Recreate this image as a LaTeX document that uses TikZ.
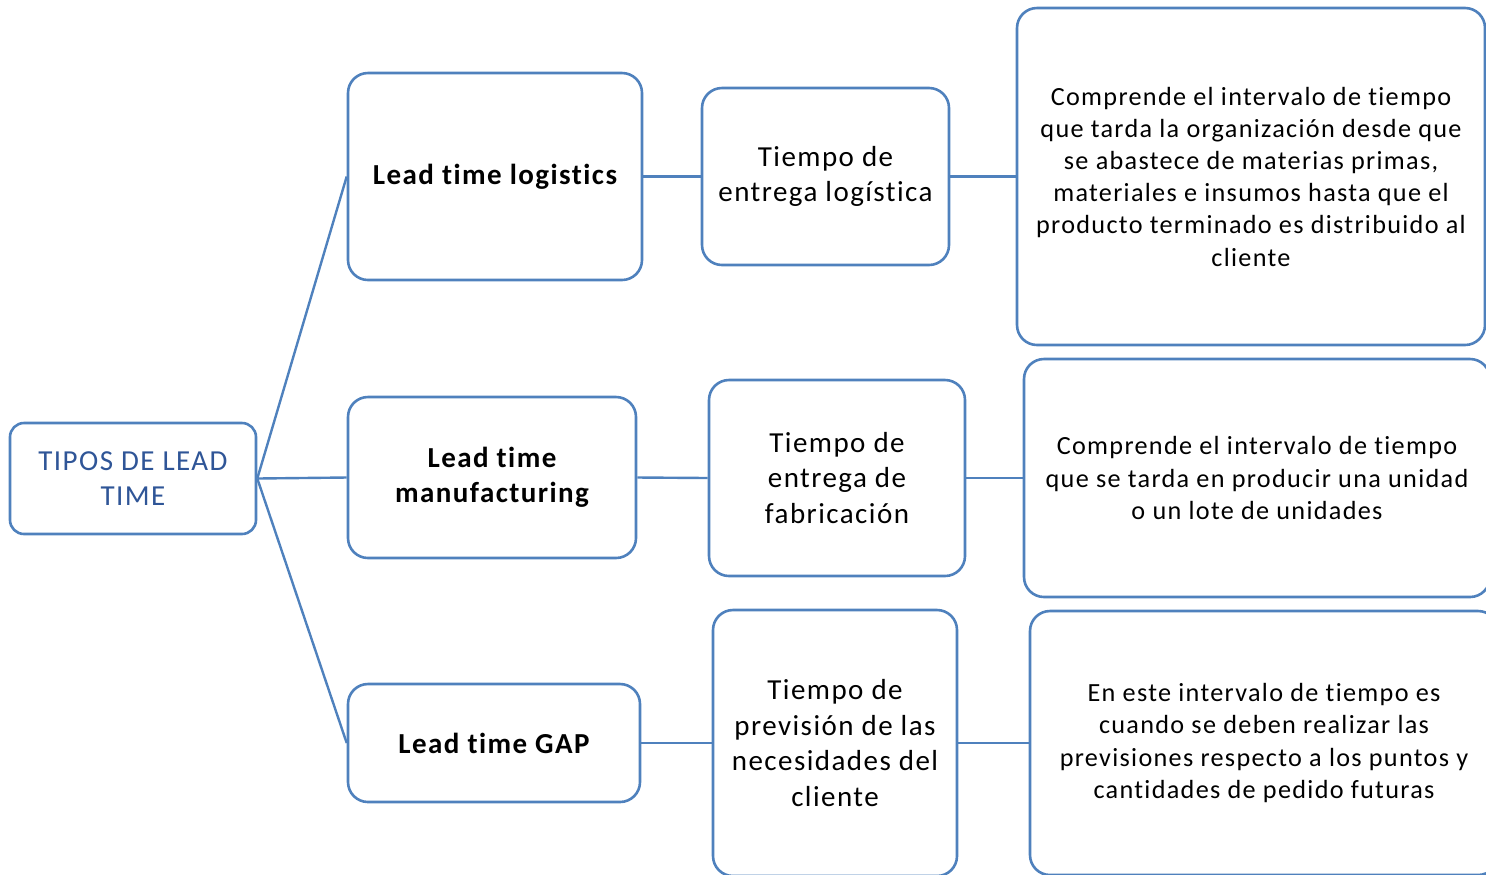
\documentclass[tikz,border=0pt]{standalone}
\usepackage{fontspec}
\setmainfont{Carlito}[LetterSpace=5, Ligatures=CommonOff]
\definecolor{lineblue}{RGB}{79,129,189}
\definecolor{rootblue}{RGB}{47,85,151}
\begin{document}
\begin{tikzpicture}[x=0.5pt,y=-0.5pt,
  box/.style={draw=lineblue, line width=1.3pt, rounded corners=10pt, fill=white,
    align=center, inner sep=0pt, font=\fontsize{14.5pt}{17.8pt}\selectfont},
  boldbox/.style={box, font=\fontsize{14.5pt}{17.6pt}\selectfont\bfseries},
  descbox/.style={box, font=\fontsize{13.1pt}{16.1pt}\selectfont},
  link/.style={draw=lineblue, line width=1.2pt}]
\useasboundingbox (0,0) rectangle (1486,874);
\clip (0,0) rectangle (1486,874);
\node[box, rounded corners=7pt, text=rootblue, minimum width=123pt, minimum height=55.5pt] (root) at (133,478.5) {TIPOS DE LEAD\\TIME};
\node[boldbox, minimum width=147pt, minimum height=103.5pt] (l1) at (495,176.5) {Lead time logistics};
\node[boldbox, minimum width=144pt, minimum height=80.5pt] (l2) at (492,477.5) {Lead time\\manufacturing};
\node[boldbox, minimum width=146pt, minimum height=59pt] (l3) at (494,743) {Lead time GAP};
\node[box, minimum width=123.5pt, minimum height=88.5pt] (m1) at (825.5,176.5) {Tiempo de\\entrega logística};
\node[box, minimum width=128pt, minimum height=98pt] (m2) at (837,478) {Tiempo de\\entrega de\\fabricación};
\node[box, minimum width=122pt, minimum height=133pt] (m3) at (835,743) {Tiempo de\\previsión de las\\necesidades del\\cliente};
\node[descbox, minimum width=234pt, minimum height=168.5pt] (r1) at (1251,176.5) {Comprende el intervalo de tiempo\\que tarda la organización desde que\\se abastece de materias primas,\\materiales e insumos hasta que el\\producto terminado es distribuido al\\cliente};
\node[descbox, minimum width=233pt, minimum height=119pt] (r2) at (1257,478) {Comprende el intervalo de tiempo\\que se tarda en producir una unidad\\o un lote de unidades};
\node[descbox, minimum width=234pt, minimum height=132pt] (r3) at (1264,743) {En este intervalo de tiempo es\\cuando se deben realizar las\\previsiones respecto a los puntos y\\cantidades de pedido futuras};
\draw[link] (root.east) -- (l1.west);
\draw[link] (root.east) -- (l2.west);
\draw[link] (root.east) -- (l3.west);
\draw[link] (l1.east) -- (m1.west);
\draw[link] (m1.east) -- (r1.west);
\draw[link] (l2.east) -- (m2.west);
\draw[link] (m2.east) -- (r2.west);
\draw[link] (l3.east) -- (m3.west);
\draw[link] (m3.east) -- (r3.west);
\end{tikzpicture}
\end{document}
